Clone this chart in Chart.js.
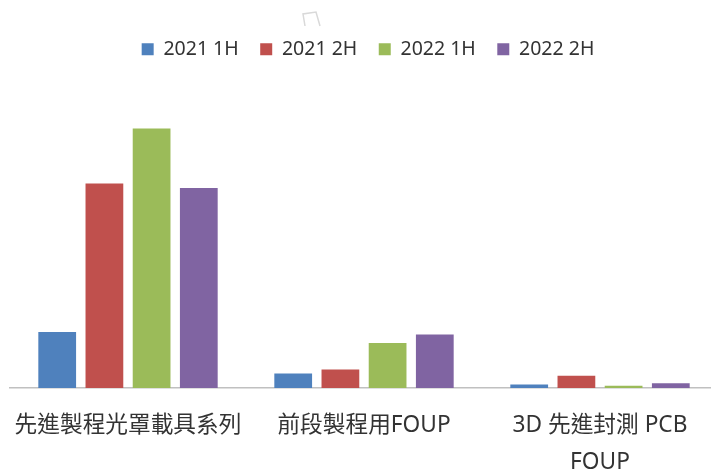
<!DOCTYPE html>
<html>
<head>
<meta charset="utf-8">
<script src="https://cdn.jsdelivr.net/npm/chart.js@4.4.0/dist/chart.umd.min.js"></script>
<style>
  html, body { margin: 0; padding: 0; background: #fff; overflow: hidden; }
  #wrap { width: 711px; height: 472px; overflow: hidden; position: relative; }
  canvas { position: absolute; left: 0; top: 0; }
</style>
</head>
<body>
<div id="wrap"><canvas id="chart" width="720" height="500"></canvas></div>
<script>
// ── Data (no axis values shown) ───────────────────────────────────
const categories = [
    '先進製程光罩載具系列',
    '前段製程用FOUP',
    ['3D 先進封測 PCB', 'FOUP']
];
const seriesNames  = ['2021 1H', '2021 2H', '2022 1H', '2022 2H'];
const seriesColors = ['#4F81BD', '#C0504D', '#9BBB59', '#8064A2'];

const h2021a = [56, 14.5, 3.5];
const h2021b = [204.5, 18.5, 12.3];
const h2022a = [259.5, 45, 2.3];
const h2022b = [200, 53.5, 4.7];

const FONT = '"Noto Sans", "Noto Sans CJK TC", sans-serif';

// small faint mark at the top of the original
const markPlugin = {
    id: 'mark',
    afterLayout(chart) {
        // nudge the legend a little to the right, like the original
        chart.legend.left += 4;
        chart.legend.right += 4;
    },
    afterDraw(chart) {
        const c = chart.ctx;
        c.save();
        c.strokeStyle = '#d9d9d9';
        c.lineWidth = 1.5;
        c.beginPath();
        c.moveTo(305, 26);
        c.lineTo(303, 14);
        c.lineTo(316, 12);
        c.lineTo(320, 26);
        c.stroke();
        c.restore();
    }
};

new Chart(document.getElementById('chart'), {
    type: 'bar',
    data: {
        labels: categories,
        datasets: [h2021a, h2021b, h2022a, h2022b].map((d, i) => ({
            label: seriesNames[i],
            data: d,
            backgroundColor: seriesColors[i],
            borderWidth: 0,
            categoryPercentage: 0.8,
            barPercentage: 0.8
        }))
    },
    options: {
        responsive: false,
        animation: false,
        layout: { padding: { top: 18, left: 10, right: 2, bottom: 0 } },
        plugins: {
            legend: {
                position: 'top',
                labels: {
                    boxWidth: 12,
                    boxHeight: 12,
                    padding: 21.5,
                    color: '#333',
                    font: { family: FONT, size: 19.5 }
                }
            },
            tooltip: { enabled: false }
        },
        scales: {
            x: {
                grid: { display: false, drawTicks: false },
                border: { display: true, color: '#c0c0c0', width: 1.5 },
                ticks: {
                    color: '#333',
                    padding: 19,
                    maxRotation: 0,
                    autoSkip: false,
                    font: { family: FONT, size: 22.7, lineHeight: '37px' }
                },
                // long labels would otherwise push the plot inwards
                afterFit(scale) {
                    scale.paddingLeft = 0;
                    scale.paddingRight = 0;
                }
            },
            y: {
                display: false,
                min: 0,
                max: 319
            }
        }
    },
    plugins: [markPlugin]
});
</script>
</body>
</html>
